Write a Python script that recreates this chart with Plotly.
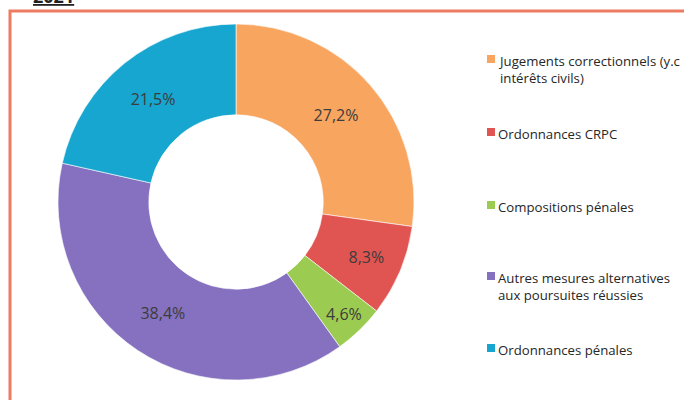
import plotly.graph_objects as go

categories = [
    "Jugements correctionnels (y.c<br>intérêts civils)",
    "Ordonnances CRPC",
    "Compositions pénales",
    "Autres mesures alternatives<br>aux poursuites réussies",
    "Ordonnances pénales",
]
values = [27.2, 8.3, 4.6, 38.4, 21.5]
colors = ["#F8A560", "#E05552", "#9CCB52", "#8571BF", "#17A6CF"]
text_labels = [f"{v:.1f}%".replace(".", ",") for v in values]

W, H = 684, 400
cx, cy, r = 236, 202, 178

fig = go.Figure()
fig.add_trace(go.Pie(
    labels=[c.replace("<br>", " ") for c in categories],
    values=values,
    text=text_labels,
    textinfo="text",
    textposition="inside",
    insidetextorientation="horizontal",
    textfont=dict(family="Open Sans", size=16, color="#3c3c3c"),
    hole=0.49,
    sort=False,
    direction="clockwise",
    rotation=0,
    marker=dict(colors=colors, line=dict(color="rgba(255,255,255,0.6)", width=1)),
    domain=dict(x=[(cx - r) / W, (cx + r) / W], y=[(H - cy - r) / H, (H - cy + r) / H]),
    showlegend=False,
    hoverinfo="label+percent",
))

shapes = [
    dict(type="rect", xref="paper", yref="paper",
         x0=10 / W, x1=(W + 20) / W, y0=-20 / H, y1=1 - 11 / H,
         line=dict(color="#EC7B62", width=3), fillcolor="rgba(0,0,0,0)", layer="below"),
]
annotations = []

legend_tops = [50, 123, 196, 267, 339]
for cat, col, top in zip(categories, colors, legend_tops):
    sq_c = top + 9
    shapes.append(dict(type="rect", xref="paper", yref="paper",
                       x0=487 / W, x1=495 / W,
                       y0=1 - (sq_c + 4) / H, y1=1 - (sq_c - 4) / H,
                       line=dict(width=0), fillcolor=col))
    annotations.append(dict(
        x=496 / W, y=1 - top / H, xref="paper", yref="paper",
        xanchor="left", yanchor="top", align="left", showarrow=False,
        text=cat, font=dict(family="Open Sans", size=13.2, color="#262626"),
    ))

annotations.append(dict(
    x=31 / W, y=1 + 18 / H, xref="paper", yref="paper",
    xanchor="left", yanchor="top", showarrow=False,
    text="<b><u>2021</u></b>", font=dict(family="Open Sans", size=18, color="#222222"),
))

fig.update_layout(
    width=W, height=H,
    margin=dict(l=0, r=0, t=0, b=0),
    paper_bgcolor="white",
    plot_bgcolor="white",
    shapes=shapes,
    annotations=annotations,
    showlegend=False,
)

fig.write_html("out.html", config={"displayModeBar": False},
               post_script="document.body.style.margin='0';document.body.style.overflow='hidden';")
